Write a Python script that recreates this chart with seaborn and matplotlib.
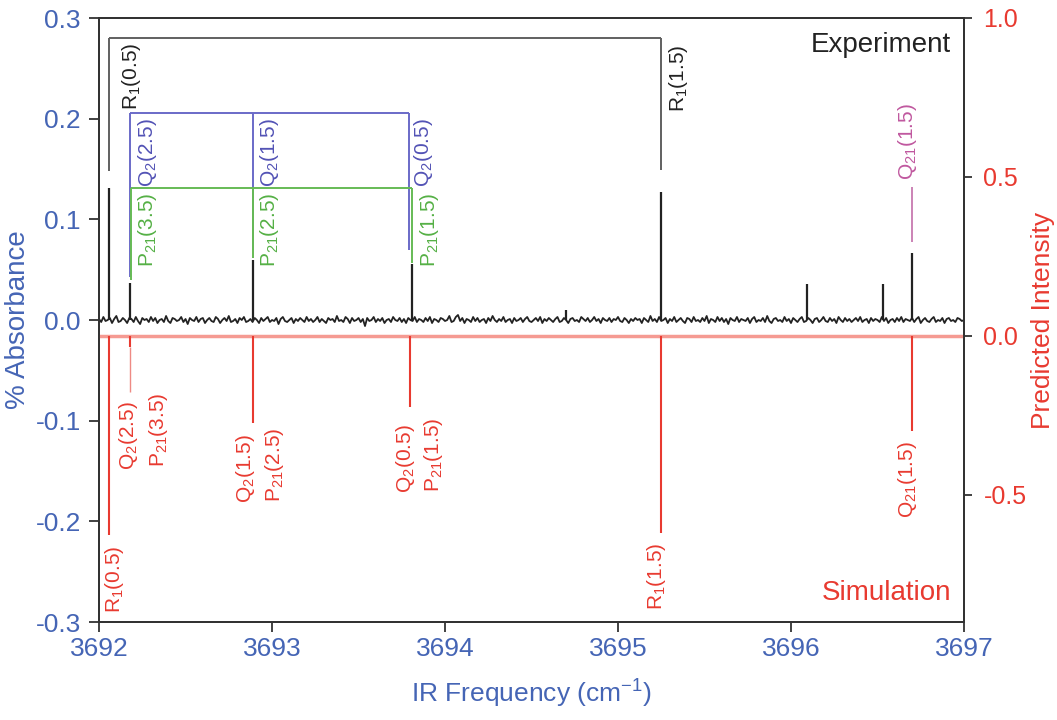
import numpy as np
import pandas as pd
import matplotlib
matplotlib.use("Agg")
import matplotlib.pyplot as plt
import seaborn as sns

# ---------------- data ----------------
# experimental baseline noise (units of 1e-3 % absorbance), evenly spaced 3692..3697
noise_milli = [
    1, -2, 3, -1, 0, 2, -3, 1, 4, -2, -1, 2, 0, -3, 2, 1, -2, 3, -1, -4, 2, 0, 1, -2, 3,
    -1, 2, -3, 0, 1, -2, 4, -1, -3, 2, 1, -1, 0, 3, -2, 1, -4, 2, 0, -1, 3, -2, 1, 2, -3,
    0, 2, -1, -2, 3, 1, -3, 0, 2, -1, 4, -2, -1, 1, -3, 2, 0, 3, -2, -1, 1, -2, 2, 0, -3,
    2, -1, 1, 3, -2, 0, -1, 2, -4, 1, 3, -1, -2, 0, 2, -3, 1, -1, 2, 0, -2, 3, -1, 1, -2,
    0, 3, -2, 1, -1, -3, 2, 0, 1, -2, 4, -1, 0, -2, 3, 1, -3, 2, -1, 0, 2, -2, 1, -6, 2,
    -1, 0, 3, -2, 1, -1, 2, -3, 0, 1, -2, 3, 0, -1, 2, -2, 1, -3, 2, 0, -1, 3, -2, 1, 0,
    -2, 2, -1, 3, -3, 1, 0, -2, 2, 1, -1, 0, 4, -2, -1, 3, 5, -1, 2, -3, 1, 0, -2, 3, -1,
    2, -2, 0, 1, -3, 2, -1, 4, 0, -2, 1, -1, 3, -2, 0, 1, -3, 2, -1, 0, 2, -2, 1, 3, -1,
    -2, 0, 2, -1, 3, -3, 1, -1, 2, 0, -2, 1, 3, -2, -1, 2, 0, -3, 1, 2, -1, 0, -2, 3, 1,
    -1, 2, -2, 0, 3, -1, 1, -3, 2, 0, -1, 2, -2, 1, 0, 3, -1, -2, 2, 0, -3, 1, -1, 2, 0,
    1, -3, 2, 0, -2, 4, -1, 1, -2, 3, -1, 0, 2, -3, 1, -1, 3, -2, 0, 2, -1, -3, 2, 1, -2,
    3, -1, 0, -2, 2, -1, 4, -3, 1, 0, -2, 3, -1, 2, -2, 1, -4, 2, 0, -1, 3, -2, 1, 0, -1,
    2, -3, 1, 3, -2, 0, -1, 2, -2, 4, -1, -3, 1, 2, -1, 0, -2, 3, -1, 1, -3, 2, 0, -2, 1,
    3, -2, -1, 2, 0, -3, 1, 2, -2, 0, 3, -1, -2, 2, -1, 1, -3, 3, 0, -2, 2, -1, 1, -2, 0,
    2, -1, 3, -2, 0, 1, -3, 2, -1, 1, 0, -2, 3, -1, 2, -3, 0, 1, -2, 2, -1, 3, -2, 1, 0,
    -1, 2, -2, 1, 3, -3, 0, 2, -1, -2, 1, 3, -2, 0, -1, 2, -3, 1, 2, -1, 0, -2, 2, 1, -1,
    0]

# experimental peaks
peak_pos = [3692.06, 3692.18, 3692.89, 3693.81, 3694.70, 3695.25, 3696.09, 3696.53, 3696.70]
peak_abs = [0.131, 0.037, 0.060, 0.056, 0.010, 0.127, 0.036, 0.036, 0.067]

# simulated stick spectrum (predicted intensity, drawn downward)
sim_pos = [3692.06, 3692.18, 3692.89, 3693.80, 3695.25, 3696.70]
sim_int = [-0.626, -0.035, -0.274, -0.223, -0.62, -0.30]

# assignment brackets (x positions, horizontal level, vertical ends)
black_br_x = [3692.06, 3695.25]
black_br_top = 0.280
black_br_end = [0.148, 0.149]
blue_br_x = [3692.18, 3692.89, 3693.79]
blue_br_top = 0.206
blue_br_end = [0.043, 0.070, 0.070]
green_br_x = [3692.185, 3692.89, 3693.81]
green_br_top = 0.131
green_br_end = [0.040, 0.062, 0.057]

BLACK = "#222222"
BLUE_T = "#5252b5"
GREEN_T = "#55b045"
MAG_T = "#c0589f"
RED = "#e83a30"
AXBLUE = "#4565b5"

top_labels = [
    ("R$_\\mathregular{1}$(0.5)", 3692.19, 0.209, BLACK),
    ("Q$_\\mathregular{2}$(2.5)", 3692.283, 0.132, BLUE_T),
    ("P$_\\mathregular{21}$(3.5)", 3692.283, 0.053, GREEN_T),
    ("Q$_\\mathregular{2}$(1.5)", 3692.988, 0.132, BLUE_T),
    ("P$_\\mathregular{21}$(2.5)", 3692.988, 0.053, GREEN_T),
    ("Q$_\\mathregular{2}$(0.5)", 3693.873, 0.132, BLUE_T),
    ("P$_\\mathregular{21}$(1.5)", 3693.913, 0.053, GREEN_T),
    ("R$_\\mathregular{1}$(1.5)", 3695.347, 0.207, BLACK),
    ("Q$_\\mathregular{21}$(1.5)", 3696.676, 0.139, MAG_T),
]
bottom_labels = [
    ("R$_\\mathregular{1}$(0.5)", 3692.092, -0.871),
    ("Q$_\\mathregular{2}$(2.5)", 3692.168, -0.421),
    ("P$_\\mathregular{21}$(3.5)", 3692.341, -0.412),
    ("Q$_\\mathregular{2}$(1.5)", 3692.844, -0.525),
    ("P$_\\mathregular{21}$(2.5)", 3693.017, -0.522),
    ("Q$_\\mathregular{2}$(0.5)", 3693.769, -0.494),
    ("P$_\\mathregular{21}$(1.5)", 3693.931, -0.491),
    ("R$_\\mathregular{1}$(1.5)", 3695.22, -0.862),
    ("Q$_\\mathregular{21}$(1.5)", 3696.676, -0.5725),
]

x_ticks = [3692, 3693, 3694, 3695, 3696, 3697]
y_ticks = [-0.3, -0.2, -0.1, 0.0, 0.1, 0.2, 0.3]
y2_ticks = [-0.5, 0.0, 0.5, 1.0]

# ---------------- style ----------------
sns.set_theme(style="ticks")
plt.rcParams["font.family"] = ["Liberation Sans", "DejaVu Sans"]
plt.rcParams["mathtext.fontset"] = "custom"
plt.rcParams["mathtext.rm"] = "Liberation Sans"
plt.rcParams["mathtext.it"] = "Liberation Sans:italic"
plt.rcParams["mathtext.bf"] = "Liberation Sans:bold"

fig = plt.figure(figsize=(10.57, 7.2), dpi=100)
ax = fig.add_axes([0.0937, 0.1361, 0.8183, 0.8389])

# experimental trace
base_x = np.linspace(x_ticks[0], x_ticks[-1], len(noise_milli))
df = pd.DataFrame({"freq": base_x, "absorb": np.array(noise_milli) * 1e-3})
sns.lineplot(data=df, x="freq", y="absorb", ax=ax, color=BLACK, lw=1.3,
             estimator=None, sort=False)
ax.vlines(peak_pos, 0, peak_abs, color=BLACK, lw=1.6)

# brackets
def bracket(xs, top, ends, color):
    ax.hlines(top, min(xs), max(xs), color=color, lw=1.4)
    ax.vlines(xs, ends, top, color=color, lw=1.4)

bracket(black_br_x, black_br_top, black_br_end, "#606060")
bracket(blue_br_x, blue_br_top, blue_br_end, "#6a6ac8")
bracket(green_br_x, green_br_top, green_br_end, "#66bb55")
ax.vlines(peak_pos[-1], 0.0775, 0.132, color="#c77ab0", lw=1.3)

for txt, x, y, c in top_labels:
    ax.text(x, y, txt, rotation=90, ha="center", va="bottom", color=c, fontsize=15)

ax.text(0.985, 0.955, "Experiment", transform=ax.transAxes, ha="right", va="center",
        fontsize=20, color=BLACK)

ax.set_xlim(x_ticks[0], x_ticks[-1])
ax.set_ylim(y_ticks[0], y_ticks[-1])
ax.set_xticks(x_ticks)
ax.set_xticklabels([str(t) for t in x_ticks])
ax.set_yticks(y_ticks)
ax.set_yticklabels([f"{t:.1f}" for t in y_ticks])
ax.set_xlabel("IR Frequency (cm$^\\mathregular{-1}$)", fontsize=19, color=AXBLUE, labelpad=12)
ax.set_ylabel("% Absorbance", fontsize=20, color=AXBLUE, labelpad=3)
ax.tick_params(axis="both", labelsize=19, labelcolor=AXBLUE, length=7, width=1.3,
               color="#333333", direction="out")
ax.tick_params(axis="x", pad=4)
ax.tick_params(axis="y", pad=6)

# simulation axis
ax2 = ax.twinx()
ax2.axhline(0, color="#f59a92", lw=2.5, zorder=1)
ax2.vlines(sim_pos, 0, sim_int, color=RED, lw=1.5)
ax2.vlines(sim_pos[1], sim_int[1], -0.176, color="#ee8a84", lw=1.0)
for txt, x, y in bottom_labels:
    ax2.text(x, y, txt, rotation=90, ha="center", va="bottom", color=RED, fontsize=15)
ax2.text(0.985, 0.048, "Simulation", transform=ax.transAxes, ha="right", va="center",
         fontsize=20, color=RED)
ax2.set_ylim(-0.9, 1.0)
ax2.set_yticks(y2_ticks)
ax2.set_yticklabels([f"{t:.1f}" for t in y2_ticks])
ax2.set_ylabel("Predicted Intensity", fontsize=19, color=RED, labelpad=3)
ax2.tick_params(axis="y", labelsize=18, labelcolor=RED, length=6, width=1.3,
                color="#333333", direction="out", pad=8)

for a in (ax, ax2):
    for s in a.spines.values():
        s.set_visible(True)
        s.set_color("#333333")
        s.set_linewidth(1.4)

fig.savefig("out.png", dpi=100)
